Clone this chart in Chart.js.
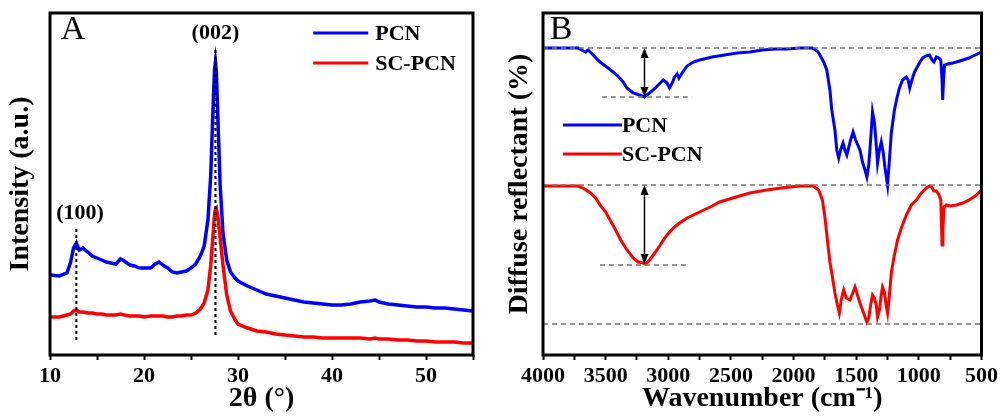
<!DOCTYPE html>
<html>
<head>
<meta charset="utf-8">
<script src="https://cdn.jsdelivr.net/npm/chart.js@4.4.1/dist/chart.umd.min.js"></script>
<style>
  body { margin: 0; background: #fff; }
  .wrap { display: flex; width: 1001px; height: 416px; }
  canvas { display: block; }
</style>
</head>
<body>
<div class="wrap">
  <canvas id="xrdChart" width="500" height="416"></canvas>
  <canvas id="ftirChart" width="501" height="416"></canvas>
</div>
<script>
// --- Panel A: XRD (2-theta vs intensity, a.u.) ---
const xrdAngle = [10, 11, 11.8, 12.2, 12.5, 12.8, 13.1, 13.5, 14, 14.5, 15, 15.5, 16, 16.5, 17, 17.5, 17.9, 18.5, 19, 19.5,
  20, 20.7, 21.2, 21.6, 22, 22.5, 23, 23.5, 24, 24.5, 25, 25.5, 26, 26.4, 26.8, 27.1, 27.3, 27.5, 27.6, 27.7,
  27.9, 28.1, 28.4, 28.8, 29.2, 29.7, 30, 31, 32, 33, 34, 35, 36, 37, 38, 39, 40, 41, 42, 43,
  44, 44.6, 45, 46, 47, 48, 49, 50, 51, 52, 53, 54, 55];
const xrdPCN = [80, 79, 82, 93, 107, 112, 105, 107, 103, 99, 97, 95, 93, 92, 91, 96, 94, 90, 89, 87,
  87, 87, 91, 93, 90, 87, 83, 82, 83, 84, 87, 91, 99, 109, 135, 180, 235, 285, 293, 283,
  225, 170, 122, 95, 83, 77, 74, 69, 65, 61, 59, 57, 55, 53, 52, 51, 50, 50, 51, 53,
  54, 55, 53, 51, 50, 49, 48, 48, 47, 47, 46, 45, 44];
const xrdSCPCN = [38, 38, 40, 41, 44, 45, 43, 43, 42, 42, 41, 41, 40, 40, 40, 41, 40, 39, 39, 39,
  38, 39, 39, 39, 39, 38, 38, 39, 39, 40, 40, 42, 46, 52, 65, 90, 115, 140, 146, 147,
  135, 117, 90, 60, 44, 35, 31, 27, 24, 23, 21, 20, 19, 18, 18, 17, 17, 17, 17, 17,
  16, 17, 16, 16, 15, 15, 14, 14, 13, 13, 13, 12, 12];

// --- Panel B: FTIR (wavenumber vs diffuse reflectance, offset curves) ---
const ftirWnPCN = [4000, 3900, 3720, 3680, 3660, 3640, 3600, 3545, 3480, 3410, 3360, 3330, 3280, 3230, 3190, 3150, 3120, 3080, 3040, 3010,
  2990, 2965, 2950, 2930, 2915, 2895, 2850, 2800, 2750, 2650, 2550, 2450, 2350, 2250, 2150, 2050, 1950, 1850, 1810, 1790,
  1760, 1735, 1710, 1695, 1670, 1655, 1640, 1625, 1605, 1590, 1575, 1545, 1525, 1505, 1470, 1450, 1430, 1415, 1400, 1385,
  1370, 1355, 1340, 1330, 1315, 1300, 1285, 1270, 1250, 1235, 1220, 1195, 1175, 1155, 1130, 1100, 1085, 1073, 1060, 1035,
  1000, 970, 940, 915, 895, 880, 860, 840, 825, 815, 810, 803, 795, 770, 730, 700, 650, 600, 550, 500];
const ftirPCN = [307, 307, 307, 304, 303, 305, 300, 293, 287, 280, 273, 267, 262, 260, 258, 262, 265, 270, 275, 272,
  267, 273, 278, 281, 277, 281, 289, 293, 295, 298, 300, 302, 303, 305, 306, 306, 307, 307, 304, 300,
  293, 285, 265, 245, 225, 205, 197, 205, 212, 205, 200, 215, 223, 215, 205, 193, 185, 178, 190, 215,
  243, 233, 210, 192, 205, 213, 203, 187, 170, 195, 222, 245, 257, 267, 275, 278, 275, 267, 273, 283,
  291, 297, 299, 300, 295, 293, 298, 297, 295, 275, 255, 275, 290, 291, 292, 293, 295, 297, 300, 303];
const ftirWnSC = [4000, 3900, 3720, 3680, 3620, 3580, 3545, 3500, 3465, 3420, 3380, 3330, 3280, 3240, 3200, 3180, 3150, 3120, 3090, 3050,
  3010, 2960, 2910, 2850, 2750, 2650, 2590, 2485, 2350, 2215, 2100, 1950, 1845, 1800, 1770, 1750, 1730, 1710, 1695, 1670,
  1650, 1635, 1620, 1600, 1580, 1550, 1525, 1510, 1490, 1470, 1450, 1415, 1400, 1385, 1370, 1355, 1340, 1330, 1315, 1300,
  1290, 1275, 1262, 1250, 1235, 1220, 1200, 1170, 1140, 1100, 1060, 1020, 980, 940, 915, 900, 880, 860, 840, 825,
  815, 808, 800, 780, 750, 700, 650, 600, 550, 500];
const ftirSCPCN = [169, 169, 169, 167, 162, 157, 150, 143, 135, 125, 115, 105, 97, 93, 92, 91, 95, 100, 105, 113,
  120, 127, 132, 137, 143, 149, 153, 157, 162, 165, 167, 169, 169, 165, 155, 138, 115, 93, 82, 62,
  50, 42, 55, 65, 57, 55, 63, 68, 60, 52, 45, 33, 37, 50, 60, 57, 50, 38, 45, 60,
  68, 63, 50, 42, 60, 82, 97, 115, 127, 140, 150, 155, 162, 167, 169, 168, 164, 164, 160, 155,
  110, 125, 148, 150, 149, 150, 152, 155, 159, 165];

// guide lines (data units)
const xrdPeaks = [12.8, 27.6];
const ftirLevels = [307, 170, 31];

const serif = 'Liberation Serif';
const tickFont = { family: serif, size: 22, weight: 'bold' };
const titleFont = { family: serif, size: 28, weight: 'bold' };

function pts(xs, ys) {
  return xs.map((v, i) => ({ x: v, y: ys[i] }));
}

// frame, arrows, labels and legend drawn on top of the plot
const extrasPlugin = {
  id: 'extras',
  afterDatasetsDraw(chart, args, opts) {
    const { ctx, chartArea: a, scales: { x, y } } = chart;
    ctx.save();
    ctx.strokeStyle = '#000';
    ctx.lineWidth = 3;
    ctx.strokeRect(a.left, a.top, a.right - a.left, a.bottom - a.top);

    (opts.arrows || []).forEach(ar => {
      const px = x.getPixelForValue(ar.x);
      const y1 = y.getPixelForValue(ar.from);
      const y2 = y.getPixelForValue(ar.to);
      ctx.lineWidth = 1.5;
      ctx.fillStyle = '#000';
      ctx.beginPath();
      ctx.moveTo(px, y1 + 6);
      ctx.lineTo(px, y2 - 6);
      ctx.stroke();
      ctx.beginPath();
      ctx.moveTo(px, y1); ctx.lineTo(px - 4, y1 + 10); ctx.lineTo(px + 4, y1 + 10);
      ctx.closePath(); ctx.fill();
      ctx.beginPath();
      ctx.moveTo(px, y2); ctx.lineTo(px - 4, y2 - 10); ctx.lineTo(px + 4, y2 - 10);
      ctx.closePath(); ctx.fill();
    });

    (opts.texts || []).forEach(t => {
      ctx.font = t.font;
      ctx.fillStyle = '#000';
      ctx.textAlign = 'center';
      ctx.textBaseline = 'middle';
      ctx.fillText(t.text, x.getPixelForValue(t.x), y.getPixelForValue(t.y));
    });

    (opts.legend || []).forEach(l => {
      const ly = y.getPixelForValue(l.y);
      const x0 = x.getPixelForValue(l.x0);
      const x1 = x.getPixelForValue(l.x1);
      ctx.strokeStyle = l.color;
      ctx.lineWidth = 3;
      ctx.beginPath();
      ctx.moveTo(x0, ly);
      ctx.lineTo(x1, ly);
      ctx.stroke();
      ctx.font = 'bold 22px "' + serif + '"';
      ctx.fillStyle = '#000';
      ctx.textAlign = 'left';
      ctx.textBaseline = 'middle';
      ctx.fillText(l.text, x1 + l.gap, ly + 1);
    });
    ctx.restore();
  }
};

// ðŸ“Œ XRD chart
const xrdCtx = document.getElementById('xrdChart').getContext('2d');
const xrdChart = new Chart(xrdCtx, {
  type: 'line',
  data: {
    datasets: [
      ...xrdPeaks.map((p, i) => ({
        data: [{ x: p, y: i === 0 ? 15 : 20 }, { x: p, y: i === 0 ? 128 : 308 }],
        borderColor: '#000', borderWidth: 2, borderDash: [3, 3], pointRadius: 0
      })),
      {
        label: 'PCN',
        data: pts(xrdAngle, xrdPCN),
        borderColor: '#0000ff', borderWidth: 3.5, pointRadius: 0, tension: 0
      },
      {
        label: 'SC-PCN',
        data: pts(xrdAngle, xrdSCPCN),
        borderColor: '#ff0000', borderWidth: 3.5, pointRadius: 0, tension: 0
      }
    ]
  },
  options: {
    responsive: false,
    animation: false,
    events: [],
    layout: { padding: { top: 13, right: 27, left: 0, bottom: 0 } },
    plugins: {
      legend: { display: false },
      tooltip: { enabled: false },
      extras: {
        texts: [
          { text: 'A', x: 12.45, y: 325, font: '34px "' + serif + '"' },
          { text: '(002)', x: 27.6, y: 322, font: 'bold 22px "' + serif + '"' },
          { text: '(100)', x: 13.2, y: 142, font: 'bold 22px "' + serif + '"' }
        ],
        legend: [
          { text: 'PCN', color: '#0000ff', x0: 38.0, x1: 43.85, y: 322, gap: 7 },
          { text: 'SC-PCN', color: '#ff0000', x0: 38.0, x1: 43.85, y: 292, gap: 7 }
        ]
      }
    },
    scales: {
      x: {
        type: 'linear', min: 10, max: 55,
        afterFit: s => { s.height = 61; },
        ticks: {
          stepSize: 5, autoSkip: false, maxRotation: 0, color: '#000', font: tickFont, padding: 3,
          callback: v => (v % 10 === 0 ? v : '')
        },
        grid: { drawOnChartArea: false, tickLength: 5, tickWidth: 2, tickColor: '#000' },
        border: { display: false },
        title: { display: true, text: '2θ (°)', color: '#000', font: titleFont, padding: { top: 0, bottom: 0 } }
      },
      y: {
        min: 0, max: 342,
        afterFit: s => { s.width = 50; },
        ticks: { display: false },
        grid: { display: false },
        border: { display: false },
        title: { display: true, text: 'Intensity (a.u.)', color: '#000', font: titleFont, padding: { top: 4, bottom: 0 } }
      }
    }
  },
  plugins: [extrasPlugin]
});

// ðŸ“Œ FTIR chart
const ftirCtx = document.getElementById('ftirChart').getContext('2d');
const ftirChart = new Chart(ftirCtx, {
  type: 'line',
  data: {
    datasets: [
      ...ftirLevels.map(v => ({
        data: [{ x: 4000, y: v }, { x: 500, y: v }],
        borderColor: '#777', borderWidth: 1.5, borderDash: [5, 4], pointRadius: 0
      })),
      {
        data: [{ x: 3530, y: 258 }, { x: 2810, y: 258 }],
        borderColor: '#777', borderWidth: 1.5, borderDash: [5, 4], pointRadius: 0
      },
      {
        data: [{ x: 3545, y: 90 }, { x: 2830, y: 90 }],
        borderColor: '#777', borderWidth: 1.5, borderDash: [5, 4], pointRadius: 0
      },
      {
        label: 'PCN',
        data: pts(ftirWnPCN, ftirPCN),
        borderColor: '#0000ff', borderWidth: 3, pointRadius: 0, tension: 0
      },
      {
        label: 'SC-PCN',
        data: pts(ftirWnSC, ftirSCPCN),
        borderColor: '#ff0000', borderWidth: 3, pointRadius: 0, tension: 0
      }
    ]
  },
  options: {
    responsive: false,
    animation: false,
    events: [],
    layout: { padding: { top: 13, right: 19, left: 0, bottom: 0 } },
    plugins: {
      legend: { display: false },
      tooltip: { enabled: false },
      extras: {
        arrows: [
          { x: 3190, from: 307, to: 258 },
          { x: 3190, from: 170, to: 91 }
        ],
        texts: [
          { text: 'B', x: 3856, y: 325, font: '34px "' + serif + '"' }
        ],
        legend: [
          { text: 'PCN', color: '#0000ff', x0: 3840, x1: 3370, y: 230, gap: 0 },
          { text: 'SC-PCN', color: '#ff0000', x0: 3840, x1: 3370, y: 201, gap: 0 }
        ]
      }
    },
    scales: {
      x: {
        type: 'linear', min: 500, max: 4000, reverse: true,
        afterFit: s => { s.height = 61; },
        ticks: {
          stepSize: 250, autoSkip: false, maxRotation: 0, color: '#000', font: tickFont, padding: 3,
          callback: v => (v % 500 === 0 ? v : '')
        },
        grid: { drawOnChartArea: false, tickLength: 5, tickWidth: 2, tickColor: '#000' },
        border: { display: false },
        title: { display: true, text: 'Wavenumber (cm⁻¹)', color: '#000', font: titleFont, padding: { top: 0, bottom: 0 } }
      },
      y: {
        min: 0, max: 342,
        afterFit: s => { s.width = 43; },
        ticks: { display: false },
        grid: { display: false },
        border: { display: false },
        title: { display: true, text: 'Diffuse reflectant (%)', color: '#000', font: titleFont, padding: { top: 3, bottom: 0 } }
      }
    }
  },
  plugins: [extrasPlugin]
});
</script>
</body>
</html>
